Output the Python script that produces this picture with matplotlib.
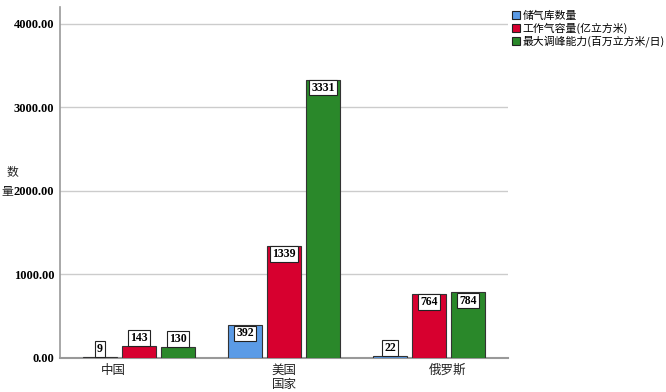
import numpy as np
import matplotlib.pyplot as plt

plt.rcParams['font.family'] = ['Noto Sans CJK SC', 'DejaVu Sans']

countries = ['中国', '美国', '俄罗斯']
series_names = ['储气库数量', '工作气容量(亿立方米)', '最大调峰能力(百万立方米/日)']
storage_count = [9, 392, 22]
working_gas = [143, 1339, 764]
peak_capacity = [130, 3331, 784]
yticks = [0, 1000, 2000, 3000, 4000]

series = [storage_count, working_gas, peak_capacity]
colors = ['#5b9be6', '#d7002f', '#2a882a']

fig = plt.figure(figsize=(6.66, 3.92), dpi=100)
ax = fig.add_axes([60 / 666, 34 / 392, 448 / 666, 351 / 392])

x = np.arange(len(countries))
step = 0.269
width = 0.241
for i, (vals, col) in enumerate(zip(series, colors)):
    pos = x + (i - 1) * step
    ax.bar(pos, vals, width, color=col, edgecolor='#333333', linewidth=0.8, zorder=3,
           label=series_names[i])
    for p, v in zip(pos, vals):
        if v > 250:
            y, va = v - 25, 'top'
        else:
            y, va = v + 25, 'bottom'
        ax.text(p, y, str(v), ha='center', va=va, family='Liberation Serif',
                fontweight='bold', fontsize=8.5, zorder=4,
                bbox=dict(boxstyle='square,pad=0.15', fc='white', ec='#222222', lw=0.8))

ax.set_xlim(-0.545, 2.545)
ax.set_ylim(0, 4200)
ax.set_yticks(yticks)
ax.set_yticklabels(['%.2f' % t for t in yticks], family='Liberation Serif',
                   fontweight='bold', fontsize=9)
ax.tick_params(axis='y', length=0, pad=4)
ax.yaxis.grid(True, color='#cccccc', linewidth=1, zorder=0)
ax.set_xticks([])
label_pos = [-0.18, 1.0, 2.13]
for lp, name in zip(label_pos, countries):
    ax.text(lp, -70, name, ha='center', va='top', fontsize=9, color='#222222')
ax.text(1.0, -240, '国家', ha='center', va='top', fontsize=9, color='#222222')

for s in ['top', 'right']:
    ax.spines[s].set_visible(False)
ax.spines['left'].set_color('#999999')
ax.spines['bottom'].set_color('#999999')
ax.spines['left'].set_linewidth(1.2)
ax.spines['bottom'].set_linewidth(1.5)

fig.text(7 / 666, 1 - 172 / 392, '数', ha='left', va='center', fontsize=8.5, color='#222222')
fig.text(1 / 666, 1 - 191 / 392, '量', ha='left', va='center', fontsize=8.5, color='#222222')

leg = fig.legend(loc='upper left', bbox_to_anchor=(504 / 666, 1 - 3 / 392), frameon=False,
                 fontsize=7.8, handlelength=0.8, handleheight=0.8, handletextpad=0.2,
                 labelspacing=0.15, borderpad=0.2)
for h in leg.legend_handles:
    h.set_edgecolor('#222222')

fig.savefig('out.png', dpi=100)
